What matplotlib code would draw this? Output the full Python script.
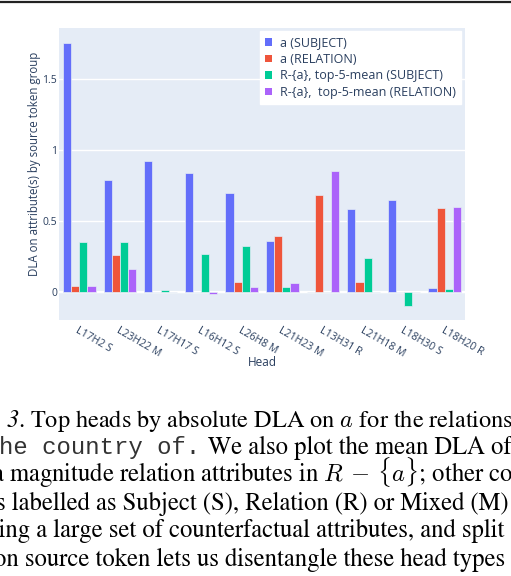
#plot: top heads by DLA, plotly-style grouped bars plus caption
import numpy as np
import matplotlib.pyplot as plt
from matplotlib.patches import Patch
from matplotlib.lines import Line2D

#Data
heads = ["L17H2 S", "L23H22 M", "L17H17 S", "L16H12 S", "L26H8 M",
         "L21H23 M", "L13H31 R", "L21H18 M", "L18H30 S", "L18H20 R"]
a_subject = [1.752, 0.787, 0.923, 0.838, 0.696, 0.358, 0.0, 0.588, 0.653, 0.028]
a_relation = [0.042, 0.260, 0.0, 0.0, 0.075, 0.393, 0.686, 0.075, 0.0, 0.593]
top5_subject = [0.356, 0.356, 0.014, 0.267, 0.328, 0.040, 0.0, 0.239, -0.094, 0.026]
top5_relation = [0.047, 0.164, 0.0, -0.012, 0.040, 0.066, 0.852, 0.003, 0.0, 0.597]
series_names = ["a (SUBJECT)", "a (RELATION)",
                "R-{a}, top-5-mean (SUBJECT)", "R-{a},  top-5-mean (RELATION)"]
colors = ["#636EFA", "#EF553B", "#00CC96", "#AB63FA"]

FONT = "Open Sans"
TXT = "#2a3f5f"

fig = plt.figure(figsize=(5.11, 5.76), dpi=100)
ax = fig.add_axes([59/511, 1-320/576, (465-59)/511, (320-28)/576])
ax.set_facecolor("#E5ECF6")

x = np.arange(len(heads))
w = 0.2
for i, vals in enumerate([a_subject, a_relation, top5_subject, top5_relation]):
    ax.bar(x + (i-1.5)*w, vals, width=w, color=colors[i],
           edgecolor="#E5ECF6", linewidth=0.5, label=series_names[i], zorder=3)

ax.set_xlim(-0.5, len(heads)-0.5)
ax.set_ylim(-0.195, 1.86)
ax.set_yticks([0, 0.5, 1, 1.5])
ax.set_yticklabels(["0", "0.5", "1", "1.5"], fontfamily=FONT, fontsize=7.5, color=TXT)
ax.grid(axis="y", color="white", linewidth=1, zorder=0)
ax.axhline(0, color="white", linewidth=1.6, zorder=1)
ax.tick_params(axis="both", length=0, pad=1.5)
ax.set_xticks(x)
ax.set_xticklabels(heads, rotation=-30, ha="left", va="top", rotation_mode="anchor",
                   fontfamily=FONT, fontsize=7.6, color=TXT)
ax.tick_params(axis="x", pad=4)
for s in ax.spines.values():
    s.set_visible(False)

fig.text(35/511, 1-164/576, "DLA on attribute(s) by source token group", rotation=90,
         ha="center", va="center", fontfamily=FONT, fontsize=8.3, color=TXT)
fig.text(262/511, 1-363/576, "Head", ha="center", va="center",
         fontfamily=FONT, fontsize=8.5, color=TXT)

handles = [Patch(facecolor=c, edgecolor="none") for c in colors]
leg = ax.legend(handles, series_names, loc="upper right",
                bbox_to_anchor=(461/511, 1-31/576), bbox_transform=fig.transFigure,
                prop={"family": FONT, "size": 9}, fancybox=False, framealpha=1,
                edgecolor="white", handlelength=0.55, handleheight=0.55,
                handletextpad=0.65, labelspacing=0.28, borderpad=0.42,
                borderaxespad=0)
for t in leg.get_texts():
    t.set_color(TXT)

#page rule at the top
fig.add_artist(Line2D([0, 1], [1-1.5/576, 1-1.5/576], color="#222222",
                      linewidth=1.6, transform=fig.transFigure))

#caption (cut off at the page edges)
SERIF = "STIXGeneral"
fs = 17.7

def ytop(px):
    return 1 - px/576

fig.text(7/511, ytop(427), "3", fontfamily=SERIF, fontstyle="italic",
         fontsize=17.5, va="baseline")
fig.text(18/511, ytop(427), ". Top heads by absolute DLA on $a$ for the relations",
         fontfamily=SERIF, fontsize=17.5, va="baseline", math_fontfamily="cm")
fig.text(200/511, ytop(454), "he country of.", fontfamily="Liberation Mono",
         fontsize=17.3, va="baseline", ha="right", color="#333333")
fig.text(208/511, ytop(454), "We also plot the mean DLA of", fontfamily=SERIF,
         fontsize=fs, va="baseline")
fig.text(-8/511, ytop(482), r"a magnitude relation attributes in $R\,-\,\{a\}$; other co",
         fontfamily=SERIF, fontsize=fs, va="baseline", math_fontfamily="cm")
fig.text(-4/511, ytop(510), "s labelled as Subject (S), Relation (R) or Mixed (M)",
         fontfamily=SERIF, fontsize=fs, va="baseline")
fig.text(-11/511, ytop(537), "sing a large set of counterfactual attributes, and split",
         fontfamily=SERIF, fontsize=fs, va="baseline")
fig.text(-6/511, ytop(566), "on source token lets us disentangle these head types",
         fontfamily=SERIF, fontsize=fs, va="baseline")

fig.savefig("out.png", dpi=100)
